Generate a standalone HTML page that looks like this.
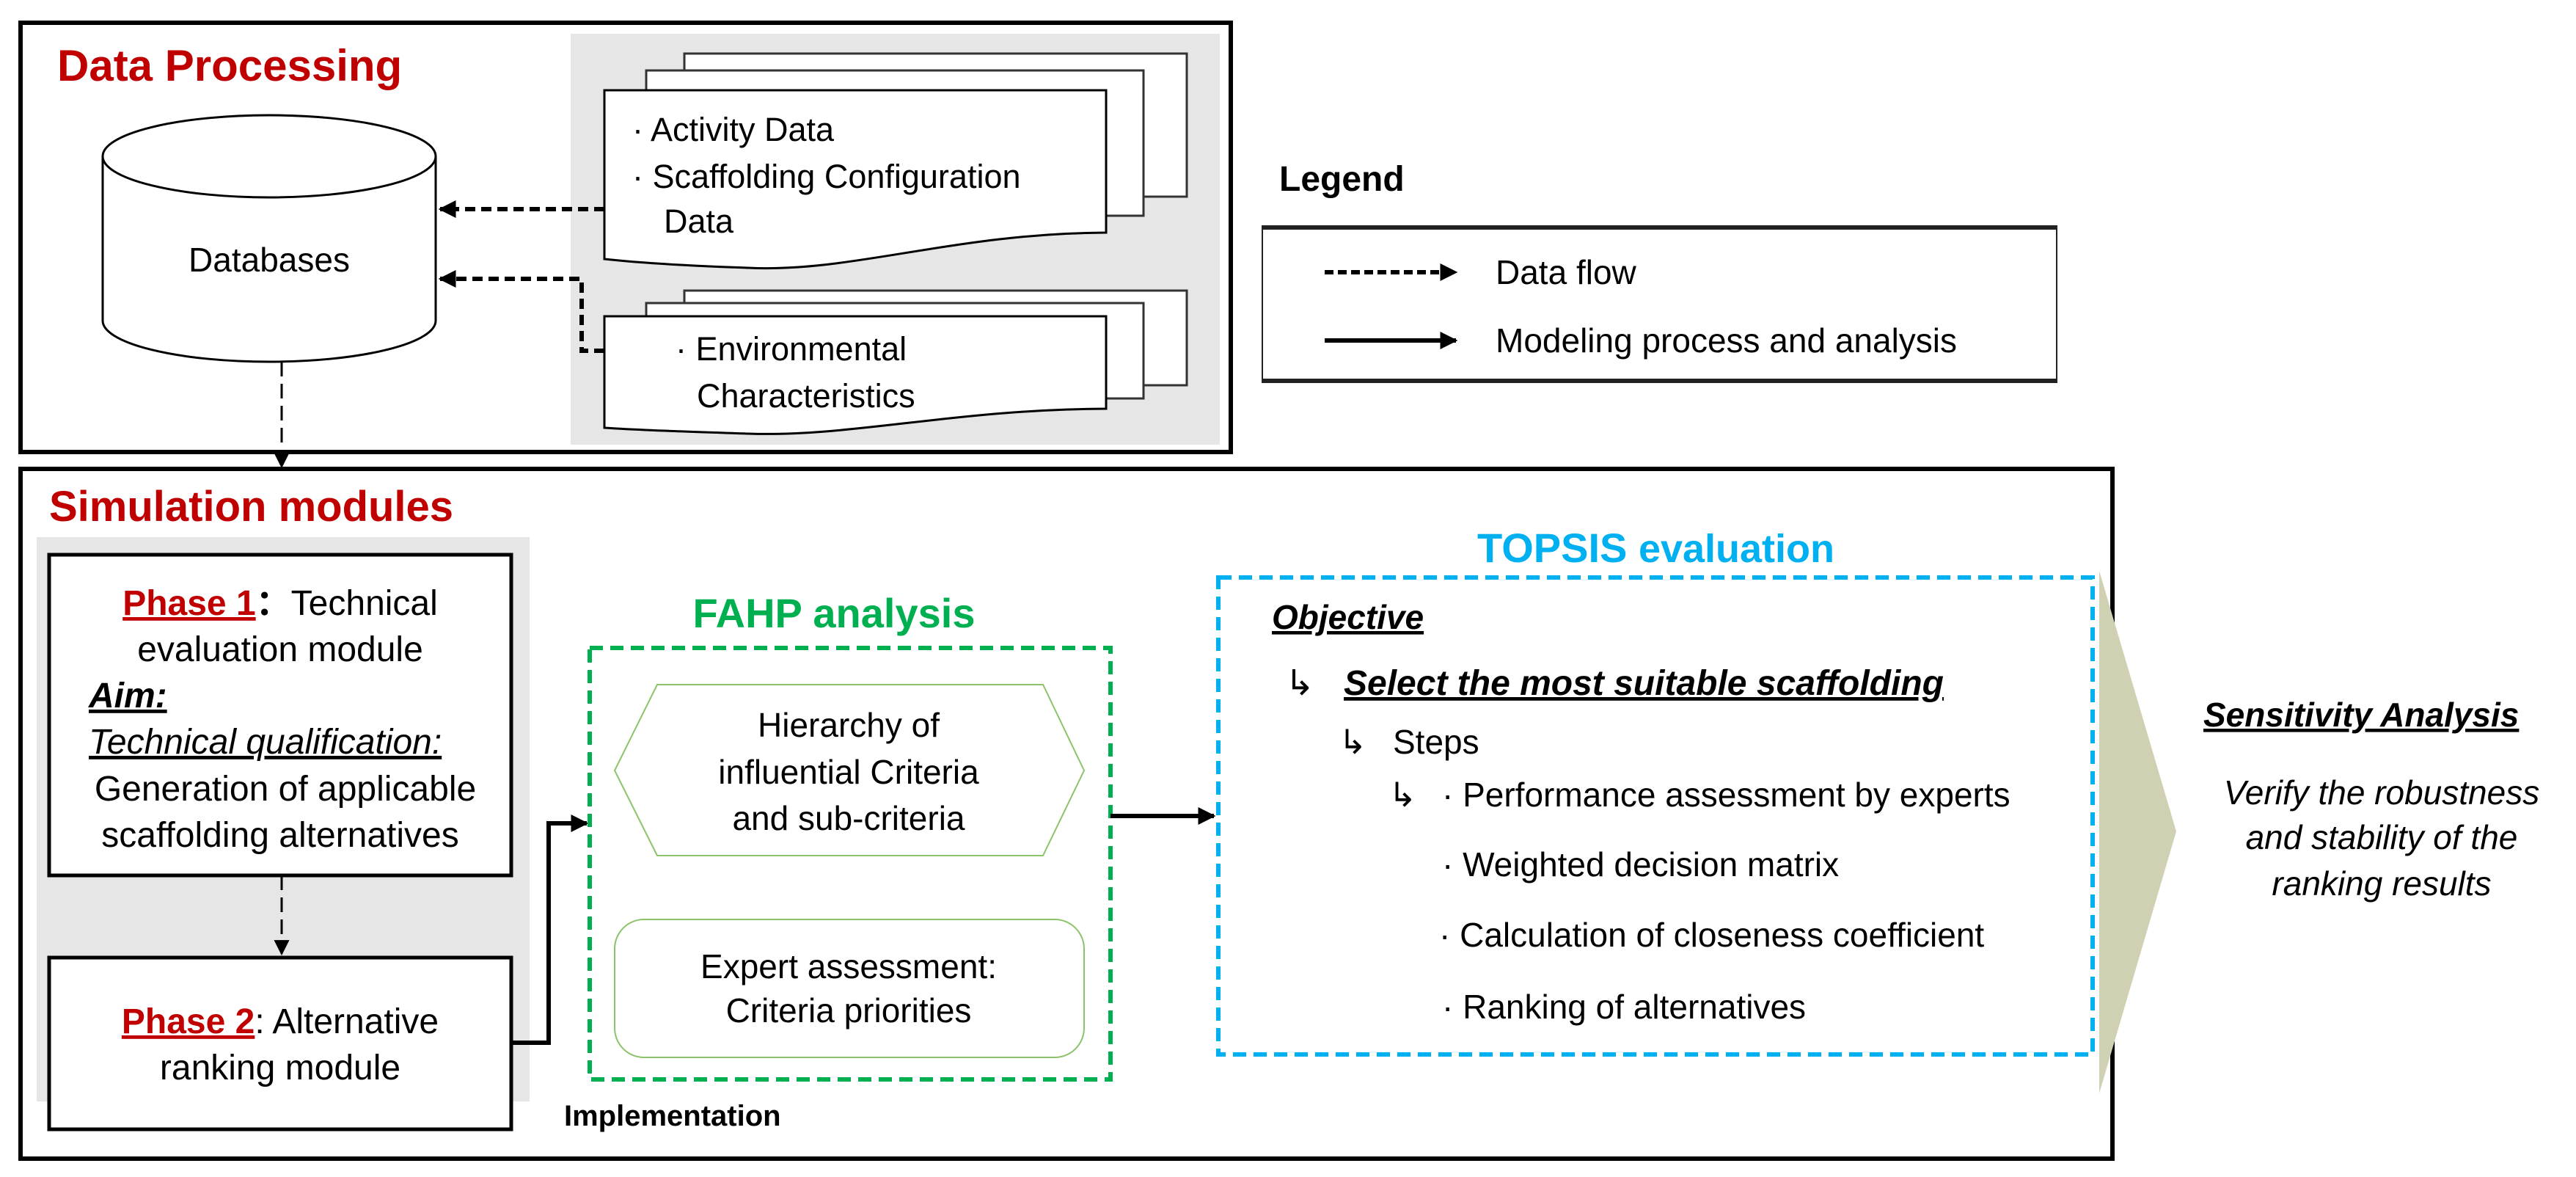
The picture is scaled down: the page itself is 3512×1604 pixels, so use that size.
<!DOCTYPE html>
<html><head><meta charset="utf-8">
<style>
html,body{margin:0;padding:0;background:#fff;}
svg{display:block;}
text{font-family:"Liberation Sans","Noto Sans CJK SC",sans-serif;}
</style></head>
<body>
<svg width="3512" height="1604" viewBox="0 0 3512 1604" xmlns="http://www.w3.org/2000/svg">
<defs>
<marker id="ah" viewBox="0 0 10 10" refX="9" refY="5" markerWidth="4" markerHeight="4" orient="auto" markerUnits="strokeWidth">
<path d="M0,0 L10,5 L0,10 Z" fill="#000"/></marker>
<marker id="ah2" viewBox="0 0 10 10" refX="9" refY="5" markerWidth="7" markerHeight="7" orient="auto" markerUnits="strokeWidth">
<path d="M0,0 L10,5 L0,10 Z" fill="#000"/></marker>
</defs>

<!-- Data processing box -->
<rect x="28" y="31" width="1650" height="585" fill="#fff" stroke="#000" stroke-width="6"/>
<text x="78" y="110" font-size="60" font-weight="bold" fill="#c00000">Data Processing</text>
<rect x="778" y="46" width="885" height="560" fill="#e6e6e6"/>

<!-- cylinder -->
<path d="M140,213 V437 A227,56 0 0 0 594,437 V213" fill="#fff" stroke="#000" stroke-width="3"/>
<ellipse cx="367" cy="213" rx="227" ry="56" fill="#fff" stroke="#000" stroke-width="3"/>
<text x="367" y="370" font-size="46" text-anchor="middle">Databases</text>

<!-- doc stack 1 -->
<rect x="933" y="73" width="685" height="195" fill="#fff" stroke="#333" stroke-width="3"/>
<rect x="881" y="96" width="678" height="198" fill="#fff" stroke="#333" stroke-width="3"/>
<path d="M824,123 H1508 V317 C1300,318 1160,372 1020,365 C930,362 870,358 824,353 Z" fill="#fff" stroke="#000" stroke-width="3"/>
<text x="862" y="192" font-size="45">· Activity Data</text>
<text x="862" y="256" font-size="45">· Scaffolding Configuration</text>
<text x="905" y="317" font-size="45">Data</text>

<!-- doc stack 2 -->
<rect x="933" y="396" width="685" height="129" fill="#fff" stroke="#333" stroke-width="3"/>
<rect x="881" y="413" width="678" height="130" fill="#fff" stroke="#333" stroke-width="3"/>
<path d="M824,431 H1508 V557 C1300,558 1160,596 1020,591 C930,588 870,586 824,583 Z" fill="#fff" stroke="#000" stroke-width="3"/>
<text x="921" y="491" font-size="45">· Environmental</text>
<text x="950" y="555" font-size="45">Characteristics</text>

<!-- data-flow arrows -->
<path d="M824,285 H600" fill="none" stroke="#000" stroke-width="6" stroke-dasharray="14,8" marker-end="url(#ah)"/>
<path d="M824,478 H793 V380 H600" fill="none" stroke="#000" stroke-width="6" stroke-dasharray="14,8" marker-end="url(#ah)"/>
<path d="M384,493 V636" fill="none" stroke="#000" stroke-width="3" stroke-dasharray="20,10" marker-end="url(#ah2)"/>

<!-- Legend -->
<text x="1744" y="260" font-size="48" font-weight="bold">Legend</text>
<rect x="1721" y="309" width="1083" height="211" fill="#fff" stroke="#222" stroke-width="2"/>
<line x1="1720" y1="310" x2="2805" y2="310" stroke="#222" stroke-width="6"/>
<line x1="1720" y1="519" x2="2805" y2="519" stroke="#222" stroke-width="6"/>
<path d="M1806,371 H1985" stroke="#000" stroke-width="6" stroke-dasharray="12,6" marker-end="url(#ah)"/>
<path d="M1806,464 H1985" stroke="#000" stroke-width="6" marker-end="url(#ah)"/>
<text x="2039" y="387" font-size="46">Data flow</text>
<text x="2039" y="480" font-size="46">Modeling process and analysis</text>

<!-- Simulation box -->
<rect x="28" y="639" width="2852" height="940" fill="#fff" stroke="#000" stroke-width="6"/>
<text x="67" y="710" font-size="58" font-weight="bold" fill="#c00000">Simulation modules</text>
<rect x="50" y="732" width="672" height="769" fill="#e6e6e6"/>

<!-- Phase 1 -->
<rect x="67" y="756" width="630" height="437" fill="#fff" stroke="#000" stroke-width="5"/>
<text x="382" y="838" font-size="48" text-anchor="middle"><tspan fill="#c00000" font-weight="bold" text-decoration="underline">Phase 1</tspan><tspan font-weight="bold">：</tspan>Technical</text>
<text x="382" y="901" font-size="48" text-anchor="middle">evaluation module</text>
<text x="121" y="964" font-size="48" font-weight="bold" font-style="italic" text-decoration="underline">Aim:</text>
<text x="121" y="1027" font-size="48" font-style="italic" text-decoration="underline">Technical qualification:</text>
<text x="389" y="1091" font-size="48" text-anchor="middle">Generation of applicable</text>
<text x="382" y="1154" font-size="48" text-anchor="middle">scaffolding alternatives</text>

<path d="M384,1193 V1300" fill="none" stroke="#000" stroke-width="3" stroke-dasharray="20,10" marker-end="url(#ah2)"/>

<!-- Phase 2 -->
<rect x="67" y="1305" width="630" height="234" fill="#fff" stroke="#000" stroke-width="5"/>
<text x="382" y="1408" font-size="48" text-anchor="middle"><tspan fill="#c00000" font-weight="bold" text-decoration="underline">Phase 2</tspan>:  Alternative</text>
<text x="382" y="1471" font-size="48" text-anchor="middle">ranking module</text>

<path d="M697,1421 H748 V1122 H800" fill="none" stroke="#000" stroke-width="6" marker-end="url(#ah)"/>

<!-- FAHP -->
<text x="1137" y="855" font-size="56" font-weight="bold" fill="#00b050" text-anchor="middle">FAHP  analysis</text>
<rect x="804" y="883" width="710" height="588" fill="none" stroke="#00b050" stroke-width="6" stroke-dasharray="18,10"/>
<path d="M896,933 H1422 L1478,1050 L1422,1166 H896 L838,1050 Z" fill="#fff" stroke="#8cc36a" stroke-width="2"/>
<text x="1157" y="1004" font-size="46" text-anchor="middle">Hierarchy of</text>
<text x="1157" y="1068" font-size="46" text-anchor="middle">influential Criteria</text>
<text x="1157" y="1131" font-size="46" text-anchor="middle">and sub-criteria</text>
<rect x="838" y="1253" width="640" height="188" rx="40" fill="#fff" stroke="#8cc36a" stroke-width="2"/>
<text x="1157" y="1333" font-size="46" text-anchor="middle">Expert assessment:</text>
<text x="1157" y="1393" font-size="46" text-anchor="middle">Criteria priorities</text>
<text x="769" y="1534" font-size="40" font-weight="bold">Implementation</text>

<path d="M1514,1112 H1655" fill="none" stroke="#000" stroke-width="6" marker-end="url(#ah)"/>

<!-- chevron -->
<path d="M2862,778 L2967,1133 L2862,1490 Z" fill="#d0d0b2"/>

<!-- TOPSIS -->
<text x="2014" y="766" font-size="56" font-weight="bold" fill="#00b0f0">TOPSIS <tspan font-size="54">evaluation</tspan></text>
<rect x="1661" y="787" width="1192" height="650" fill="none" stroke="#00b0f0" stroke-width="6" stroke-dasharray="18,10"/>
<text x="1734" y="857" font-size="46" font-weight="bold" font-style="italic" text-decoration="underline">Objective</text>
<text x="1752" y="947" font-size="48">↳</text>
<text x="1832" y="947" font-size="48" font-weight="bold" font-style="italic" text-decoration="underline">Select the most suitable scaffolding</text>
<text x="1825" y="1027" font-size="46">↳</text>
<text x="1899" y="1027" font-size="46">Steps</text>
<text x="1893" y="1099" font-size="46">↳</text>
<text x="1966" y="1099" font-size="46">· Performance assessment by experts</text>
<text x="1966" y="1194" font-size="46">· Weighted decision matrix</text>
<text x="1962" y="1290" font-size="46">· Calculation of closeness coefficient</text>
<text x="1966" y="1388" font-size="46">· Ranking of alternatives</text>

<!-- Sensitivity -->
<text x="3004" y="990" font-size="46" font-weight="bold" font-style="italic" text-decoration="underline">Sensitivity Analysis</text>
<text x="3247" y="1096" font-size="46" font-style="italic" text-anchor="middle">Verify the robustness</text>
<text x="3247" y="1157" font-size="46" font-style="italic" text-anchor="middle">and stability of the</text>
<text x="3247" y="1220" font-size="46" font-style="italic" text-anchor="middle">ranking results</text>
</svg>
</body></html>
